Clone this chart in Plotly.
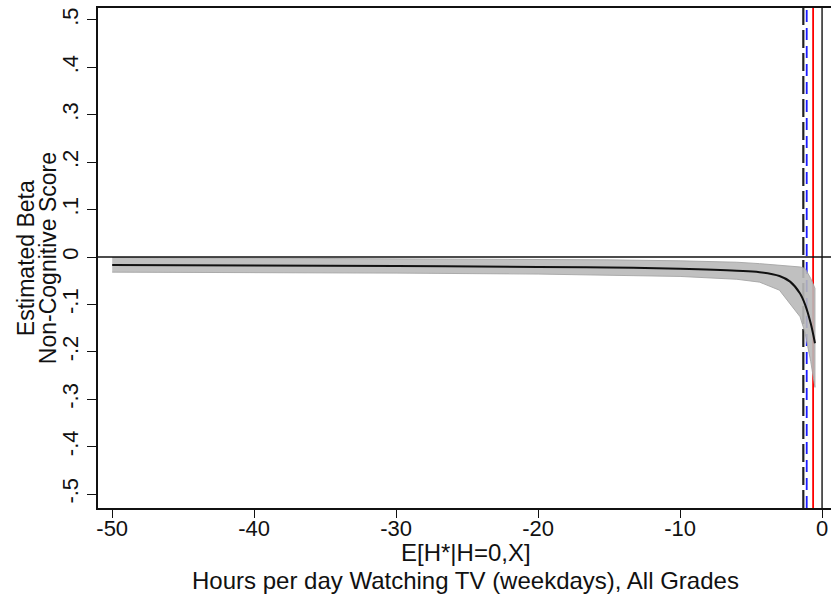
import plotly.graph_objects as go

# Data
x_vals = [-50, -40, -30, -20, -15, -10, -6, -4.4, -3, -2.25, -1.55, -1.2, -0.8, -0.5]
beta = [-0.017, -0.018, -0.019, -0.021, -0.022, -0.025, -0.029, -0.032, -0.040, -0.052, -0.077, -0.100, -0.140, -0.182]
upper = [-0.001, -0.002, -0.003, -0.005, -0.006, -0.008, -0.011, -0.014, -0.018, -0.020, -0.021, -0.024, -0.045, -0.066]
lower = [-0.032, -0.033, -0.034, -0.036, -0.038, -0.041, -0.047, -0.053, -0.070, -0.100, -0.126, -0.160, -0.220, -0.275]

vline_black_dash = -1.32
vline_blue_dash = -1.08
vline_red = -0.63

x_ticks = [-50, -40, -30, -20, -10, 0]
x_ticklabels = ["-50", "-40", "-30", "-20", "-10", "0"]
y_ticks = [0.5, 0.4, 0.3, 0.2, 0.1, 0, -0.1, -0.2, -0.3, -0.4, -0.5]
y_ticklabels = [".5", ".4", ".3", ".2", ".1", "0", "-.1", "-.2", "-.3", "-.4", "-.5"]

x_title_lines = ["E[H*|H=0,X]", "Hours per day Watching TV (weekdays), All Grades"]
y_title_lines = ["Estimated Beta", "Non-Cognitive Score"]

y_range = [-0.5295, 0.5253]

fig = go.Figure()

# vertical reference lines (drawn beneath the band)
for xv, col, dash, w in [(vline_black_dash, "#222222", "18px,5px", 2.2),
                         (vline_blue_dash, "#1a1aff", "12px,6px", 1.8),
                         (vline_red, "#ff0000", "solid", 1.8),
                         (0, "#222222", "solid", 1.5)]:
    fig.add_trace(go.Scatter(x=[xv, xv], y=y_range, mode="lines",
                             line=dict(color=col, dash=dash, width=w),
                             showlegend=False, hoverinfo="skip"))

# confidence band
fig.add_trace(go.Scatter(x=x_vals + x_vals[::-1], y=upper + lower[::-1],
                         mode="lines", fill="toself",
                         fillcolor="rgba(185,185,185,0.9)",
                         line=dict(color="rgba(165,165,165,0.9)", width=1),
                         showlegend=False, hoverinfo="skip"))

# estimate
fig.add_trace(go.Scatter(x=x_vals, y=beta, mode="lines",
                         line=dict(color="#111111", width=2, shape="spline"),
                         showlegend=False))

# horizontal zero line
fig.add_shape(type="line", xref="paper", yref="y", x0=0, x1=1, y0=0, y1=0,
              line=dict(color="#111111", width=1.5))

font = dict(family="Liberation Sans, Arial, sans-serif", size=22, color="#111111")

# axis titles as annotations
for txt, yy in zip(x_title_lines, [-0.088, -0.144]):
    fig.add_annotation(text=txt, xref="paper", yref="paper", x=0.502, y=yy,
                       xanchor="center", yanchor="middle", showarrow=False,
                       font=dict(size=24))
for txt, xx in zip(y_title_lines, [-0.098, -0.068]):
    fig.add_annotation(text=txt, xref="paper", yref="paper", x=xx, y=0.5,
                       xanchor="center", yanchor="middle", showarrow=False,
                       textangle=-90, font=dict(size=23))

fig.update_layout(
    width=831, height=596,
    margin=dict(l=98, r=0, t=8, b=88),
    paper_bgcolor="white", plot_bgcolor="white",
    font=font,
    showlegend=False,
    xaxis=dict(range=[-51, 0.63], tickvals=x_ticks, ticktext=x_ticklabels,
               showgrid=False, zeroline=False, showline=True, mirror=True,
               linecolor="#111111", linewidth=1.5,
               ticks="outside", ticklen=8, tickcolor="#111111",
               tickfont=dict(size=22), ticklabelstandoff=-8),
    yaxis=dict(range=y_range, tickvals=y_ticks, ticktext=y_ticklabels,
               tickangle=-90,
               showgrid=False, zeroline=False, showline=True,
               linecolor="#111111", linewidth=1.5,
               ticks="outside", ticklen=9, tickcolor="#111111",
               tickfont=dict(size=22)),
)

fig.write_html("out.html")
